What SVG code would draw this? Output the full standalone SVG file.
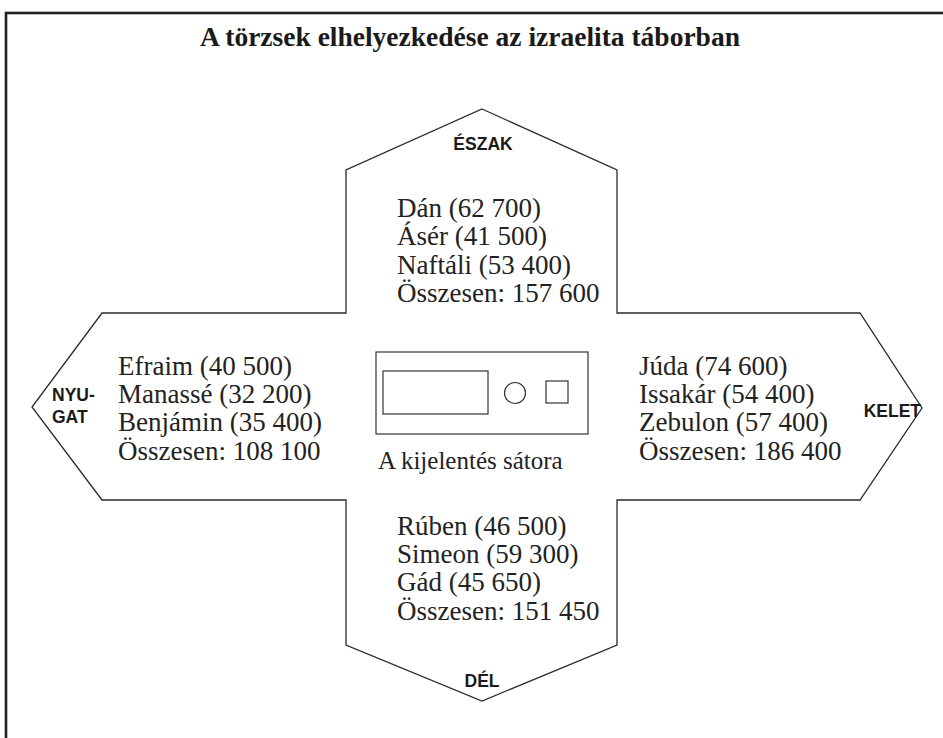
<svg xmlns="http://www.w3.org/2000/svg" width="943" height="738" viewBox="0 0 943 738">
<style>
.frame{fill:none;stroke:#222;stroke-width:2.6}
.line{fill:none;stroke:#2a2a2a;stroke-width:1.3;stroke-linejoin:miter}
.thin{fill:none;stroke:#333;stroke-width:1.2}
.title{font-family:"Liberation Serif","Times New Roman",serif;font-weight:bold;font-size:27.5px;fill:#1a1a1a;text-anchor:middle}
.tribe{font-family:"Liberation Serif","Times New Roman",serif;font-size:27px;fill:#222}
.dir{font-family:"Liberation Sans",Arial,sans-serif;font-weight:bold;font-size:17.5px;fill:#1a1a1a}
.cap{font-family:"Liberation Serif","Times New Roman",serif;font-size:25px;fill:#222}
</style>
<rect x="0" y="0" width="943" height="738" fill="#fff"/>
<rect class="frame" x="6" y="13" width="960" height="760"/>
<g id="title"><text class="title" x="470" y="46">A törzsek elhelyezkedése az izraelita táborban</text></g>
<g id="camp-outline">
<path class="line" d="M482,109 L617,170 L617,313 L860,313 L922,408 L860,500 L617,500 L617,645 L482,701 L346,645 L346,500 L102,500 L32,407 L102,313 L346,313 L346,170 Z"/>
</g>
<g id="north">
<text class="dir" x="483" y="150" text-anchor="middle">ÉSZAK</text>
<text class="tribe" x="397" y="217">Dán (62 700)</text>
<text class="tribe" x="397" y="245">Ásér (41 500)</text>
<text class="tribe" x="397" y="274">Naftáli (53 400)</text>
<text class="tribe" x="397" y="302">Összesen: 157 600</text>
</g>
<g id="west">
<text class="dir" x="52" y="401">NYU-</text>
<text class="dir" x="52" y="423">GAT</text>
<text class="tribe" x="118" y="375">Efraim (40 500)</text>
<text class="tribe" x="118" y="403">Manassé (32 200)</text>
<text class="tribe" x="118" y="431">Benjámin (35 400)</text>
<text class="tribe" x="118" y="460">Összesen: 108 100</text>
</g>
<g id="east">
<text class="dir" x="921" y="417" text-anchor="end">KELET</text>
<text class="tribe" x="639" y="375">Júda (74 600)</text>
<text class="tribe" x="639" y="403">Issakár (54 400)</text>
<text class="tribe" x="639" y="431">Zebulon (57 400)</text>
<text class="tribe" x="639" y="460">Összesen: 186 400</text>
</g>
<g id="south">
<text class="tribe" x="397" y="535">Rúben (46 500)</text>
<text class="tribe" x="397" y="563">Simeon (59 300)</text>
<text class="tribe" x="397" y="591">Gád (45 650)</text>
<text class="tribe" x="397" y="620">Összesen: 151 450</text>
<text class="dir" x="482" y="687" text-anchor="middle">DÉL</text>
</g>
<g id="tabernacle">
<rect class="thin" x="376" y="352" width="212" height="82"/>
<rect class="thin" x="383" y="371" width="105" height="43"/>
<circle class="thin" cx="515" cy="393" r="10.5"/>
<rect class="thin" x="546" y="381" width="22" height="22"/>
<text class="cap" x="378" y="469">A kijelentés sátora</text>
</g>
</svg>
